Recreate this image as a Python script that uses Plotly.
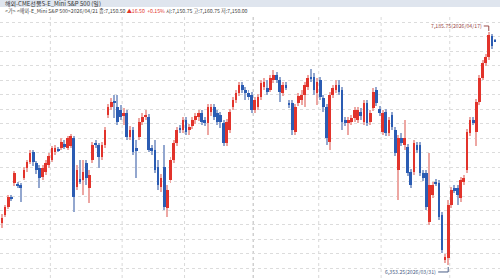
import pandas as pd
import plotly.graph_objects as go

# ---------------- data ----------------
opens = [6503, 6532, 6560, 6596, 6646, 6643, 6639, 6664, 6700, 6721,
         6757, 6718, 6700, 6668, 6685, 6710, 6728, 6757, 6768, 6771,
         6785, 6771, 6778, 6807, 6632, 6660, 6657, 6718, 6628, 6728,
         6789, 6782, 6739, 6782, 6889, 6918, 6939, 6918, 6907, 6889,
         6896, 6811, 6836, 6771, 6811, 6864, 6882, 6882, 6771, 6764,
         6703, 6632, 6703, 6557, 6657, 6728, 6789, 6843, 6836, 6871,
         6836, 6850, 6871, 6882, 6896, 6871, 6861, 6900, 6918, 6896,
         6889, 6861, 6789, 6836, 6918, 6943, 6968, 6996, 6978, 6968,
         6961, 6907, 6918, 6953, 6989, 6986, 6978, 7014, 7032, 7014,
         6968, 6996, 6932, 6932, 6828, 6932, 6943, 6961, 6989, 7025,
         7025, 6968, 7014, 6950, 6918, 6793, 6961, 6978, 6996, 6978,
         6871, 6864, 6864, 6878, 6871, 6900, 6864, 6932, 6864, 6914,
         6978, 6911, 6828, 6900, 6825, 6889, 6836, 6693, 6807, 6782,
         6775, 6685, 6685, 6782, 6782, 6682, 6682, 6507, 6603, 6650,
         6646, 6532, 6371, 6378, 6568, 6628, 6628, 6593, 6650, 6693,
         6825, 6871, 6830, 6936, 7021, 7075, 7096, 7170, 7150.75]
highs = [6535, 6568, 6603, 6603, 6689, 6650, 6646, 6703, 6728, 6764,
         6764, 6725, 6710, 6710, 6728, 6753, 6778, 6782, 6775, 6807,
         6800, 6814, 6821, 6814, 6710, 6728, 6728, 6728, 6693, 6793,
         6800, 6789, 6793, 6846, 6928, 6950, 6961, 6961, 6925, 6914,
         6907, 6850, 6846, 6800, 6878, 6896, 6907, 6893, 6782, 6800,
         6728, 6678, 6782, 6639, 6739, 6800, 6846, 6853, 6882, 6882,
         6857, 6882, 6896, 6907, 6907, 6882, 6928, 6928, 6928, 6907,
         6900, 6871, 6875, 6911, 6953, 6978, 7007, 7007, 6989, 6978,
         6971, 6953, 6964, 7014, 7021, 7014, 7032, 7050, 7043, 7025,
         7007, 7007, 6943, 6943, 6928, 6968, 6978, 7007, 7032, 7053,
         7039, 7021, 7025, 6961, 6928, 6971, 6996, 7014, 7014, 6989,
         6882, 6882, 6889, 6918, 6918, 6914, 6943, 6943, 6907, 6986,
         6989, 6921, 6907, 6911, 6882, 6900, 6846, 6818, 6825, 6871,
         6785, 6696, 6800, 6793, 6793, 6693, 6693, 6753, 6650, 6660,
         6657, 6543, 6393, 6585, 6632, 6639, 6639, 6668, 6675, 6839,
         6882, 6882, 6946, 7032, 7086, 7107, 7185.75, 7180, 7160.75]
lows = [6485, 6525, 6553, 6582, 6635, 6628, 6578, 6657, 6685, 6714,
        6707, 6678, 6628, 6657, 6675, 6700, 6721, 6746, 6757, 6764,
        6768, 6764, 6771, 6543, 6621, 6643, 6603, 6639, 6575, 6718,
        6771, 6700, 6728, 6771, 6878, 6907, 6878, 6853, 6871, 6853,
        6800, 6800, 6746, 6664, 6800, 6853, 6871, 6757, 6746, 6682,
        6621, 6614, 6550, 6525, 6646, 6718, 6778, 6825, 6825, 6818,
        6818, 6839, 6857, 6868, 6853, 6850, 6818, 6886, 6871, 6853,
        6843, 6778, 6778, 6825, 6907, 6932, 6957, 6968, 6943, 6943,
        6896, 6896, 6907, 6943, 6978, 6961, 6971, 7003, 7003, 6936,
        6957, 6978, 6914, 6818, 6818, 6921, 6925, 6918, 6978, 7007,
        6961, 6925, 6943, 6900, 6782, 6764, 6950, 6968, 6961, 6836,
        6850, 6818, 6853, 6864, 6861, 6871, 6853, 6850, 6853, 6903,
        6921, 6886, 6818, 6814, 6814, 6836, 6743, 6585, 6778, 6764,
        6671, 6628, 6675, 6753, 6671, 6653, 6550, 6496, 6593, 6635,
        6514, 6396, 6360, 6353.25, 6557, 6610, 6568, 6578, 6639, 6682,
        6814, 6853, 6778, 6925, 7014, 7064, 7086, 7125, 7150]
closes = [6521, 6560, 6596, 6589, 6682, 6635, 6628, 6693, 6721, 6753,
          6721, 6693, 6664, 6700, 6718, 6743, 6771, 6771, 6764, 6793,
          6778, 6807, 6814, 6596, 6693, 6653, 6685, 6664, 6675, 6782,
          6782, 6739, 6782, 6836, 6918, 6936, 6932, 6864, 6882, 6896,
          6811, 6836, 6757, 6764, 6864, 6882, 6889, 6764, 6764, 6693,
          6639, 6664, 6560, 6621, 6728, 6789, 6836, 6836, 6871, 6828,
          6846, 6871, 6886, 6896, 6864, 6861, 6918, 6918, 6882, 6864,
          6864, 6789, 6864, 6900, 6943, 6968, 6996, 6978, 6968, 6953,
          6907, 6943, 6953, 7003, 7007, 6971, 7021, 7032, 7014, 6971,
          6996, 6989, 6925, 6836, 6918, 6957, 6961, 6996, 7021, 7021,
          6978, 7007, 6953, 6918, 6807, 6961, 6986, 6996, 6971, 6864,
          6861, 6871, 6878, 6907, 6907, 6886, 6932, 6861, 6896, 6971,
          6932, 6896, 6896, 6825, 6871, 6846, 6753, 6807, 6789, 6807,
          6682, 6639, 6789, 6764, 6682, 6664, 6560, 6639, 6639, 6646,
          6525, 6407, 6382, 6568, 6621, 6621, 6603, 6657, 6664, 6828,
          6871, 6864, 6936, 7021, 7075, 7096, 7175, 7134, 7150.5]

# trading days: 2025-09-09 .. 2026-04-21 (weekdays, exchange holidays removed)
holidays = ["2025-12-25", "2026-01-01"]
dates = [d for d in pd.bdate_range("2025-09-09", "2026-04-21")
         if d.strftime("%Y-%m-%d") not in holidays]

title_text = "해외-CME선물S-E_Mini S&P 500 (일)"
info_left = "<가> <해외-E_Mini S&P 500>2026/04/21 종:7,150.50 "
info_change = "▲16.50  +0.15%"
info_right = " 시:7,150.75 고:7,160.75 저:7,150.00"

# ---------------- styling ----------------
RED, BLUE = "#e2332b", "#2b5cb3"
RED_W, BLUE_W = "#eda7a3", "#93a7cf"
FONT = "Noto Sans CJK KR"

n = len(closes)
xs = list(range(n))
up = [c >= o for o, c in zip(opens, closes)]
body_base = [min(o, c) for o, c in zip(opens, closes)]
body_h = [max(abs(c - o), 3.5) for o, c in zip(opens, closes)]
wick_h = [h - l for h, l in zip(highs, lows)]

fig = go.Figure()
fig.add_trace(go.Bar(x=xs, y=wick_h, base=lows, width=0.32,
                     marker=dict(color=[RED_W if u else BLUE_W for u in up], line_width=0),
                     hoverinfo="skip"))
fig.add_trace(go.Bar(x=xs, y=body_h, base=body_base, width=0.86,
                     marker=dict(color=[RED if u else BLUE for u in up], line_width=0),
                     customdata=[d.strftime("%Y/%m/%d") for d in dates[:n]],
                     hovertemplate="%{customdata}<extra></extra>"))

shapes = []
# month separators (vertical dotted grid)
for i in range(1, n):
    if dates[i].month != dates[i - 1].month:
        dark = dates[i].year != dates[i - 1].year
        shapes.append(dict(type="line", xref="x", yref="paper", x0=i - 0.5, x1=i - 0.5,
                           y0=0, y1=1, layer="below",
                           line=dict(color="#b9b9b9" if dark else "#d9d9d9", width=1, dash="dot")))

# header band
shapes.append(dict(type="rect", xref="paper", yref="paper", x0=0, x1=1,
                   y0=1 + 10 / 261, y1=1 + 17 / 261, fillcolor="#dfe5ee", line_width=0))

# max / min connectors
imax = max(range(n), key=lambda i: highs[i])
imin = min(range(n), key=lambda i: lows[i])
shapes.append(dict(type="path", xref="x", yref="y", xsizemode="pixel", ysizemode="pixel",
                   xanchor=imax, yanchor=highs[imax],
                   path="M -5,6 L 0,6 L 0,1", line=dict(color="#9a4a48", width=1)))
shapes.append(dict(type="path", xref="x", yref="y", xsizemode="pixel", ysizemode="pixel",
                   xanchor=imin, yanchor=lows[imin],
                   path="M -10,-7 L 0,-7 L 0,-2", line=dict(color="#4a5e86", width=1)))

annotations = [
    dict(xref="paper", yref="paper", x=0.006, y=1 + 13.5 / 261, xanchor="left", yanchor="middle",
         showarrow=False, text=title_text, font=dict(family=FONT, size=6, color="#333333")),
    dict(xref="paper", yref="paper", x=0.006, y=1 + 6 / 261, xanchor="left", yanchor="middle",
         showarrow=False,
         text=(info_left.replace("<", "&lt;").replace(">", "&gt;")
               + f"<span style='color:#e2332b'>{info_change}</span>" + info_right),
         font=dict(family=FONT, size=5.2, color="#444444")),
    dict(xref="x", yref="y", x=imax, y=highs[imax], xanchor="right", yanchor="middle",
         xshift=-5, yshift=6, showarrow=False,
         text=f"{highs[imax]:,.2f}({dates[imax].strftime('%Y/%m/%d')})",
         font=dict(family=FONT, size=5.2, color="#9a4a48")),
    dict(xref="x", yref="y", x=imin, y=lows[imin], xanchor="right", yanchor="middle",
         xshift=-10, yshift=-7, showarrow=False,
         text=f"{lows[imin]:,.2f}({dates[imin].strftime('%Y/%m/%d')})",
         font=dict(family=FONT, size=5.2, color="#4a5e86")),
]

fig.update_layout(
    width=500, height=278,
    margin=dict(l=0, r=0, t=17, b=0),
    paper_bgcolor="white", plot_bgcolor="white",
    barmode="overlay", bargap=0, showlegend=False,
    xaxis=dict(range=[-0.64, 159.6], showgrid=False, zeroline=False,
               showticklabels=False, ticks="", fixedrange=True),
    yaxis=dict(range=[6306.7, 7239.3], showgrid=True, gridcolor="#dcdcdc", griddash="dot",
               gridwidth=1, tick0=6340.7, dtick=51.8, zeroline=False,
               showticklabels=False, ticks="", fixedrange=True),
    shapes=shapes, annotations=annotations,
)

fig.write_html("out.html")
